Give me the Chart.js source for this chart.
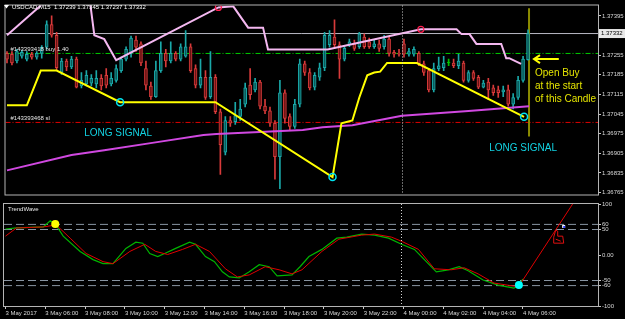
<!DOCTYPE html>
<html>
<head>
<meta charset="utf-8">
<title>USDCAD,M15</title>
<script src="https://cdn.jsdelivr.net/npm/chart.js@4.4.1/dist/chart.umd.min.js"></script>
<style>
  html,body{margin:0;padding:0;background:#000;}
  #wrap{position:relative;width:625px;height:319px;overflow:hidden;background:#000;}
  #main{position:absolute;left:0;top:0;}
  #sub{position:absolute;left:0;top:200px;}
</style>
</head>
<body>
<div id="wrap">
  <canvas id="main" width="625" height="200"></canvas>
  <canvas id="sub" width="625" height="119"></canvas>
</div>
<script>
// --- candles (USDCAD M15, 3 May 04:00 -> 4 May 06:15) ---
const opens = [
  1.37261,1.37258,1.37234,1.37251,1.37241,1.37258,1.37248,1.37261,1.37283,1.37364,
  1.37326,1.37193,1.37234,1.37213,1.37241,1.37145,1.37152,1.37155,1.37152,1.37172,
  1.37183,1.37152,1.37165,1.37200,1.37241,1.37261,1.37309,1.37295,1.37207,1.37145,
  1.37107,1.37200,1.37261,1.37234,1.37261,1.37241,1.37251,1.37285,1.37207,1.37148,
  1.37176,1.37107,1.37176,1.37053,1.36909,1.37022,1.37018,1.37036,1.37080,1.37148,
  1.37131,1.37159,1.37073,1.37056,1.37012,1.36893,1.37121,1.37036,1.37001,1.37080,
  1.37224,1.37193,1.37141,1.37176,1.37210,1.37292,1.37319,1.37292,1.37241,1.37292,
  1.37295,1.37285,1.37319,1.37302,1.37285,1.37295,1.37285,1.37312,1.37265,1.37261,
  1.37295,1.37258,1.37258,1.37261,1.37224,1.37200,1.37131,1.37207,1.37210,1.37227,
  1.37227,1.37217,1.37227,1.37165,1.37193,1.37176,1.37141,1.37159,1.37138,1.37131,
  1.37124,1.37131,1.37080,1.37104,1.37165,1.37239
];
const highs = [
  1.37268,1.37268,1.37276,1.37272,1.37268,1.37265,1.37268,1.37289,1.37377,1.37395,
  1.37336,1.37244,1.37241,1.37251,1.37248,1.37193,1.37200,1.37186,1.37200,1.37186,
  1.37207,1.37193,1.37220,1.37248,1.37285,1.37323,1.37323,1.37302,1.37234,1.37159,
  1.37234,1.37302,1.37276,1.37302,1.37268,1.37295,1.37343,1.37295,1.37220,1.37241,
  1.37200,1.37268,1.37186,1.37063,1.37036,1.37036,1.37087,1.37097,1.37155,1.37207,
  1.37172,1.37165,1.37097,1.37070,1.37022,1.37165,1.37131,1.37046,1.37097,1.37241,
  1.37234,1.37207,1.37193,1.37227,1.37336,1.37343,1.37381,1.37302,1.37289,1.37312,
  1.37309,1.37336,1.37331,1.37316,1.37309,1.37309,1.37326,1.37319,1.37272,1.37276,
  1.37312,1.37279,1.37285,1.37268,1.37234,1.37207,1.37227,1.37248,1.37251,1.37241,
  1.37241,1.37258,1.37234,1.37200,1.37200,1.37183,1.37165,1.37172,1.37148,1.37145,
  1.37145,1.37148,1.37118,1.37179,1.37251,1.37345
];
const lows = [
  1.37227,1.37220,1.37227,1.37244,1.37234,1.37241,1.37241,1.37244,1.37276,1.37319,
  1.37200,1.37186,1.37200,1.37207,1.37138,1.37138,1.37145,1.37145,1.37138,1.37131,
  1.37138,1.37145,1.37159,1.37193,1.37234,1.37248,1.37268,1.37217,1.37131,1.37097,
  1.37104,1.37193,1.37213,1.37227,1.37234,1.37234,1.37248,1.37193,1.37138,1.37138,
  1.37097,1.37101,1.37046,1.36830,1.36899,1.37001,1.37008,1.37022,1.37070,1.37097,
  1.37124,1.37063,1.37046,1.37001,1.36813,1.36779,1.37012,1.36988,1.36994,1.37070,
  1.37183,1.37131,1.37131,1.37165,1.37200,1.37283,1.37279,1.37172,1.37234,1.37285,
  1.37272,1.37279,1.37279,1.37279,1.37279,1.37268,1.37276,1.37251,1.37248,1.37251,
  1.37248,1.37251,1.37251,1.37217,1.37183,1.37124,1.37124,1.37200,1.37200,1.37217,
  1.37210,1.37207,1.37159,1.37159,1.37165,1.37135,1.37138,1.37097,1.37111,1.37104,
  1.37107,1.37073,1.37063,1.37097,1.37159,1.37237
];
const closes = [
  1.37241,1.37227,1.37268,1.37265,1.37258,1.37248,1.37261,1.37283,1.37364,1.37326,
  1.37210,1.37234,1.37213,1.37241,1.37141,1.37165,1.37183,1.37172,1.37172,1.37145,
  1.37148,1.37172,1.37207,1.37241,1.37276,1.37316,1.37283,1.37227,1.37148,1.37107,
  1.37200,1.37261,1.37234,1.37261,1.37241,1.37285,1.37285,1.37200,1.37148,1.37176,
  1.37104,1.37176,1.37053,1.36936,1.37022,1.37012,1.37039,1.37063,1.37138,1.37114,
  1.37159,1.37073,1.37056,1.37012,1.36893,1.37121,1.37029,1.37001,1.37080,1.37224,
  1.37193,1.37138,1.37183,1.37210,1.37326,1.37326,1.37292,1.37241,1.37279,1.37302,
  1.37279,1.37331,1.37285,1.37285,1.37295,1.37279,1.37312,1.37261,1.37258,1.37258,
  1.37258,1.37268,1.37276,1.37224,1.37193,1.37131,1.37207,1.37217,1.37227,1.37227,
  1.37217,1.37234,1.37165,1.37193,1.37172,1.37141,1.37155,1.37131,1.37121,1.37121,
  1.37131,1.37080,1.37104,1.37165,1.37241,1.37332
];

// --- time axis (bar index) ---
const timeIdx = [0,8,16,24,32,40,48,56,64,72,80,88,96,104];
const timeLabels = ['3 May 2017','3 May 06:00','3 May 08:00','3 May 10:00','3 May 12:00','3 May 14:00','3 May 16:00',
  '3 May 18:00','3 May 20:00','3 May 22:00','4 May 00:00','4 May 02:00','4 May 04:00','4 May 06:00'];
const daySepIdx = 79.6;
const priceTicks = [1.36765,1.36835,1.36905,1.36975,1.37045,1.37115,1.37185,1.37255,1.37325,1.37395];

// --- overlays on the price window ---
const pinkIdx   = [0,15.8,17.6,19.6,22,42.6,45.6,48.6,51.6,52.6,64.6,83.4,90.6,91.6,93.2,94.6,99.6,100.6,101.2,103.6];
const pinkPrice = [1.37326,1.37572,1.37326,1.37312,1.37237,1.37425,1.37429,1.37353,1.37353,1.37275,1.37275,
  1.37347,1.37347,1.37330,1.37330,1.37295,1.37295,1.37244,1.37244,1.37224];
const pinkMarkIdx = [42.6,83.4];
const pinkMarkPrice = [1.37425,1.37347];

const yellowIdx   = [0,4,6.8,10,22.8,42,65.6,67.4,69.6,71,72.6,74,75.2,76.6,82.6,104.2];
const yellowPrice = [1.37076,1.37076,1.37200,1.37200,1.37087,1.37087,1.36820,1.37012,1.37022,1.37104,
  1.37183,1.37193,1.37196,1.37227,1.37227,1.37035];
const signalIdx   = [22.8,65.6,104.2];
const signalPrice = [1.37087,1.36820,1.37035];

const maIdx   = [0,13,19.6,29.6,39.6,42.2,59.6,63.6,69.6,79.6,93,105.2];
const maPrice = [1.36844,1.36899,1.36916,1.36943,1.36970,1.36974,1.36988,1.36998,1.37005,1.37039,1.37056,1.37073];

const bidPrice = closes[closes.length-1];
const buyPrice = 1.37261;
const slPrice  = 1.37015;
const entryIdx = 105.2;
const entryRange = [1.36965, 1.37422];

// text notes: [text, bar index, price]
const longSignals = [['LONG SIGNAL',22.4,1.36977],['LONG SIGNAL',104,1.36923]];
const noteLines = ['Open Buy','at the start','of this Candle'];
const notePos = [106.4, 1.37189];
const arrowFrom = [111.2, 1.37241];
const arrowTo   = [106.2, 1.37241];

// --- TrendWave window ---
const greenIdx = [0,2.2,7.6,9,10,11.6,15,17.6,19.6,21.6,24.2,26.2,27.6,29,30.6,32,34.2,37,38.2,40.2,42,43.6,45,47,49,
  51,53,54.6,57.6,59.2,61,63.6,66.6,68.6,71.6,74.2,77,79.6,82.2,84.2,86.6,89,91.2,93,96,99,102.2,103.2,104];
const greenVal = [51,53,55,67,61,37,7,-9,-17,-17,13,25,23,3,-3,3,13,25,21,-3,-13,-33,-43,-45,-33,
  -19,-23,-41,-39,-23,-3,11,33,35,41,39,33,21,11,-9,-33,-29,-23,-31,-49,-59,-65,-59,-47];
const redIdx = [0,2.2,7.6,10.2,13,16.2,19.6,21.6,25,28,30.2,32.6,35.6,38.2,41,44.2,46.6,49,52.2,55,57.6,59.6,63.6,
  67,71.6,74.2,77.6,79.6,83,86.2,89.6,92.2,95,98.2,102.2,103.2,114.2];
const redVal = [37,53,55,59,33,3,-13,-17,7,21,7,1,11,21,7,-27,-43,-39,-23,-29,-37,-29,7,
  31,39,41,35,27,11,-27,-29,-25,-37,-55,-61,-61,103];
const waveLevels = [60,50,-50,-60];
const waveTicks = [100,60,50,0,-50,-60,-100];
const topDot = [10, 61];
const bottomDot = [103.2, -59];
const thumbAt = [111, 33];
const markAt = [112.2, 56];

(function(){
  const X_MIN = -0.3, X_MAX = 119.1;
  const FONT = '"Liberation Sans", Arial, sans-serif';
  const AXIS_TXT = '#d8d8d8', FRAME = '#b4b4b4';
  const BULL = '#1aa8a8', BULL_FILL = '#0b5a5a', BEAR = '#d83a3a', BEAR_FILL = '#6a1414', DOJI = '#00c000';
  Chart.defaults.font.family = FONT;

  function pts(xs, ys){ return xs.map((x,i)=>({x, y: ys[i]})); }
  function dir(i){ return closes[i] - opens[i]; }
  function stroke(i){ const d = dir(i); return d>0 ? BULL : (d<0 ? BEAR : DOJI); }
  function fill(i){ const d = dir(i); return d>0 ? BULL_FILL : (d<0 ? BEAR_FILL : DOJI); }
  function hline(y, color, dash, order){
    return { type:'line', data:[{x:X_MIN,y},{x:X_MAX,y}], borderColor:color, borderWidth:1,
      borderDash:dash, pointRadius:0, order };
  }
  function noPad(s){ s.paddingTop = 0; s.paddingBottom = 0; s.paddingLeft = 0; s.paddingRight = 0; }

  // frame + day separator shared by both windows
  const frame = {
    id:'frame',
    beforeDraw(chart){
      const {ctx, width, height} = chart;
      ctx.save(); ctx.fillStyle = '#000'; ctx.fillRect(0,0,width,height); ctx.restore();
    },
    afterDatasetsDraw(chart){
      const {ctx, chartArea:a, scales:{x}} = chart;
      ctx.save();
      const px = Math.round(x.getPixelForValue(daySepIdx)) + 0.5;
      ctx.strokeStyle = '#d0d0d0'; ctx.lineWidth = 1; ctx.setLineDash([1,2]);
      ctx.beginPath(); ctx.moveTo(px, a.top); ctx.lineTo(px, a.bottom); ctx.stroke();
      ctx.setLineDash([]);
      ctx.strokeStyle = FRAME;
      ctx.strokeRect(a.left-0.5, a.top-0.5, a.right-a.left+1, a.bottom-a.top+1);
      ctx.restore();
    }
  };

  // texts, arrow and the bid tag on the price window
  const notes = {
    id:'notes',
    afterDraw(chart){
      const {ctx, chartArea:a, scales:{x,y}} = chart;
      ctx.save();
      ctx.textBaseline = 'middle';
      // symbol header
      ctx.fillStyle = '#ffffff';
      ctx.beginPath(); ctx.moveTo(4,5); ctx.lineTo(9,5); ctx.lineTo(6.5,8.5); ctx.closePath(); ctx.fill();
      ctx.font = '6px ' + FONT;
      const last = closes.length-1;
      ctx.fillText('USDCAD,M15  ' + [opens[last],highs[last],lows[last],closes[last]].map(v=>v.toFixed(5)).join(' '), 12, 7);
      // order labels
      ctx.fillStyle = '#e8e8e8';
      ctx.fillText('#143393418 buy 1.40', a.left+5, y.getPixelForValue(buyPrice)-4);
      ctx.fillText('#143393468 sl', a.left+5, y.getPixelForValue(slPrice)-4);
      // signal labels
      ctx.font = '10px ' + FONT; ctx.fillStyle = '#12d2e2'; ctx.textAlign = 'center';
      longSignals.forEach(([t,i,p])=> ctx.fillText(t, x.getPixelForValue(i), y.getPixelForValue(p)));
      // note + arrow
      ctx.textAlign = 'left'; ctx.fillStyle = '#e4e400';
      const nx = x.getPixelForValue(notePos[0]), ny = y.getPixelForValue(notePos[1]);
      noteLines.forEach((t,k)=> ctx.fillText(t, nx, ny + k*13));
      const ax0 = x.getPixelForValue(arrowFrom[0]), ax1 = x.getPixelForValue(arrowTo[0]), ay = y.getPixelForValue(arrowTo[1]);
      ctx.strokeStyle = '#ffff00'; ctx.lineWidth = 2;
      ctx.beginPath(); ctx.moveTo(ax0, ay); ctx.lineTo(ax1, ay);
      ctx.moveTo(ax1+6, ay-4); ctx.lineTo(ax1, ay); ctx.lineTo(ax1+6, ay+4); ctx.stroke();
      // bid tag
      const by = y.getPixelForValue(bidPrice);
      ctx.fillStyle = '#e8e8e8'; ctx.fillRect(a.right+1, by-4.5, 26, 9);
      ctx.fillStyle = '#000'; ctx.font = '6px ' + FONT;
      ctx.fillText(bidPrice.toFixed(5), a.right+3, by);
      ctx.restore();
    }
  };

  const idx = opens.map((_,i)=>i);
  const bodies = idx.map(i=>({x:i, y:[Math.min(opens[i],closes[i]), Math.max(opens[i],closes[i])]}));
  const wicks  = idx.map(i=>({x:i, y:[lows[i], highs[i]]}));

  new Chart(document.getElementById('main'), {
    type:'bar',
    data:{ datasets:[
      hline(bidPrice, '#b8b8c4', [], 20),
      hline(buyPrice, '#00cc00', [5,2,1,2], 20),
      hline(slPrice, '#e00000', [5,2,1,2], 20),
      { type:'line', data:[{x:entryIdx,y:entryRange[0]},{x:entryIdx,y:entryRange[1]}], borderColor:'#8c8c00',
        borderWidth:2, pointRadius:0, order:15 },
      { type:'bar', data:wicks, barThickness:1, grouped:false, borderWidth:0,
        backgroundColor:c=>stroke(c.dataIndex), order:12 },
      { type:'bar', data:bodies, barThickness:3, grouped:false, minBarLength:1, borderWidth:1, borderSkipped:false,
        borderColor:c=>stroke(c.dataIndex), backgroundColor:c=>fill(c.dataIndex), order:11 },
      { type:'line', data:pts(maIdx, maPrice), borderColor:'#d048e0', borderWidth:2, pointRadius:0, order:6 },
      { type:'line', data:pts(yellowIdx, yellowPrice), borderColor:'#ffff00', borderWidth:2, pointRadius:0, order:5 },
      { type:'line', data:pts(pinkIdx, pinkPrice), borderColor:'#f4b8f0', borderWidth:2, pointRadius:0, order:4 },
      { type:'line', data:pts(signalIdx, signalPrice), showLine:false, pointRadius:3.5, pointBorderWidth:1.5,
        pointBorderColor:'#00e4f0', pointBackgroundColor:'rgba(0,0,0,0)', order:1 },
      { type:'line', data:pts(pinkMarkIdx, pinkMarkPrice), showLine:false, pointRadius:3, pointBorderWidth:1.2,
        pointBorderColor:'#ff2050', pointBackgroundColor:'rgba(0,0,0,0)', order:1 }
    ]},
    options:{
      responsive:false, animation:false, devicePixelRatio:1,
      layout:{ padding:{ left:1, top:2, right:0, bottom:1 } },
      plugins:{ legend:{display:false}, tooltip:{enabled:false} },
      scales:{
        x:{ type:'linear', min:X_MIN, max:X_MAX, offset:false, display:false, grid:{offset:false} },
        y:{ position:'right', min:1.36758, max:1.37432, beginAtZero:false,
            afterBuildTicks:s=>{ s.ticks = priceTicks.map(v=>({value:v})); },
            afterFit:s=>{ s.width = 27; noPad(s); },
            border:{display:false},
            grid:{ drawOnChartArea:false, tickLength:3, color:'#c8c8c8' },
            ticks:{ color:AXIS_TXT, padding:1, font:{size:6}, callback:v=>Number(v).toFixed(5) } }
      }
    },
    plugins:[frame, notes]
  });

  // --- TrendWave ---
  const waveExtras = {
    id:'waveExtras',
    afterDraw(chart){
      const {ctx, chartArea:a, scales:{x,y}} = chart;
      ctx.save();
      ctx.fillStyle = '#e8e8e8'; ctx.font = '6px ' + FONT; ctx.textBaseline = 'middle';
      ctx.fillText('TrendWave', a.left+4, a.top+5);
      // thumbs-up mark
      const tx = x.getPixelForValue(thumbAt[0]), ty = y.getPixelForValue(thumbAt[1]);
      ctx.strokeStyle = '#e01010'; ctx.lineWidth = 1;
      ctx.beginPath();
      ctx.moveTo(tx-4, ty-1); ctx.lineTo(tx-2, ty-8); ctx.lineTo(tx, ty-7); ctx.lineTo(tx, ty-2);
      ctx.lineTo(tx+5, ty-2); ctx.lineTo(tx+6, ty+5); ctx.lineTo(tx-4, ty+5); ctx.closePath(); ctx.stroke();
      ctx.beginPath(); ctx.moveTo(tx-2, ty+1); ctx.lineTo(tx+3, ty+3); ctx.stroke();
      // small marker
      const mx = x.getPixelForValue(markAt[0]), my = y.getPixelForValue(markAt[1]);
      ctx.fillStyle = '#ffffff'; ctx.fillRect(mx-1.5, my-1.5, 3, 3);
      ctx.fillStyle = '#3040ff'; ctx.fillRect(mx-0.5, my-0.5, 2, 2);
      ctx.restore();
    }
  };

  const levelSets = waveLevels.map(v=>hline(v, '#8894a2', [8,4], 20));

  new Chart(document.getElementById('sub'), {
    type:'line',
    data:{ datasets:[
      ...levelSets,
      { data:pts(greenIdx, greenVal), borderColor:'#00b400', borderWidth:1.2, pointRadius:0, order:4 },
      { data:pts(redIdx, redVal), borderColor:'#e00000', borderWidth:1, pointRadius:0, order:3 },
      { data:[{x:topDot[0],y:topDot[1]}], showLine:false, pointRadius:4, pointBorderWidth:0,
        pointBackgroundColor:'#ffff00', order:1 },
      { data:[{x:bottomDot[0],y:bottomDot[1]}], showLine:false, pointRadius:4, pointBorderWidth:0,
        pointBackgroundColor:'#00ffff', order:1 }
    ]},
    options:{
      responsive:false, animation:false, devicePixelRatio:1,
      layout:{ padding:{ left:1, top:2, right:0, bottom:0 } },
      plugins:{ legend:{display:false}, tooltip:{enabled:false} },
      scales:{
        x:{ type:'linear', min:X_MIN, max:X_MAX, offset:false,
            afterBuildTicks:s=>{ s.ticks = timeIdx.map(v=>({value:v})); },
            afterFit:s=>{ s.height = 13; noPad(s); },
            border:{display:false},
            grid:{ drawOnChartArea:false, tickLength:3, color:'#c8c8c8' },
            ticks:{ color:AXIS_TXT, padding:1, align:'start', maxRotation:0, autoSkip:false, font:{size:6},
                    callback:v=>timeLabels[timeIdx.indexOf(v)] || '' } },
        y:{ position:'right', min:-100, max:100,
            afterBuildTicks:s=>{ s.ticks = waveTicks.map(v=>({value:v})); },
            afterFit:s=>{ s.width = 27; noPad(s); },
            border:{display:false},
            grid:{ drawOnChartArea:false, tickLength:3, color:'#c8c8c8' },
            ticks:{ color:AXIS_TXT, padding:1, font:{size:6}, callback:v=> v===0 ? '0.00' : String(v) } }
      }
    },
    plugins:[frame, waveExtras]
  });
})();
</script>
</body>
</html>
